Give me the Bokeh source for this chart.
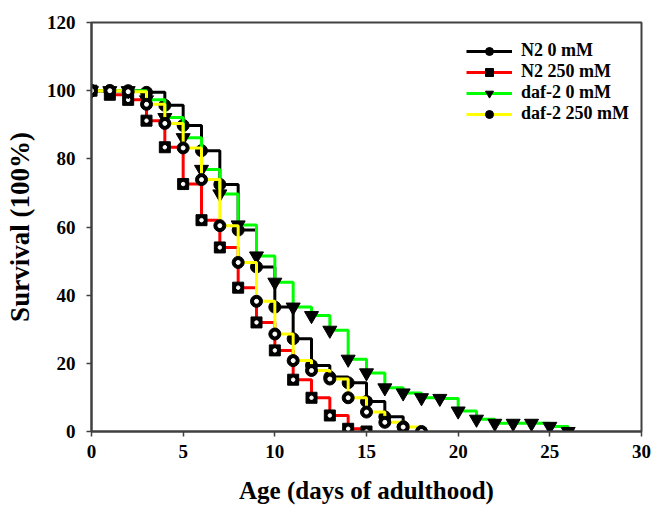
from bokeh.plotting import figure
from bokeh.models import Range1d, FixedTicker, Legend, LegendItem
from bokeh.embed import file_html
from bokeh.resources import INLINE

# ---- data ----
days_n2_0 = list(range(0, 18))
surv_n2_0 = [100, 100, 100, 99.5, 95.7, 89.8, 82.4, 72.5, 59.1, 48.3, 36.5,
             27.2, 19.4, 16.0, 14.3, 8.8, 4.3, 1.4]
days_n2_250 = list(range(0, 16))
surv_n2_250 = [100, 98.8, 97.3, 91.2, 83.4, 72.6, 62.0, 54.0, 42.2, 32.0, 23.8,
               15.2, 9.9, 4.7, 0.8, 0]
days_daf2_0 = list(range(0, 27))
surv_daf2_0 = [100, 100, 100, 97.3, 92.1, 86.2, 76.9, 69.7, 60.6, 51.5, 43.8,
               36.5, 34.0, 29.7, 21.2, 17.2, 12.8, 11.3, 9.9, 9.7, 6.0, 3.6,
               2.4, 2.4, 2.4, 1.5, 0]
days_daf2_250 = list(range(0, 19))
surv_daf2_250 = [100, 100, 99.7, 96.0, 90.4, 83.2, 73.9, 60.4, 49.6, 38.2, 28.6,
                 20.8, 17.9, 15.4, 9.9, 5.7, 2.7, 1.3, 0]

labels = ["N2 0 mM", "N2 250 mM", "daf-2 0 mM", "daf-2 250 mM"]
x_ticks = [0, 5, 10, 15, 20, 25, 30]
y_ticks = [0, 20, 40, 60, 80, 100, 120]

FONT = "Liberation Serif"
AX = "#404040"

p = figure(width=651, height=510, x_range=Range1d(0, 30), y_range=Range1d(0, 120),
           output_backend="svg", toolbar_location=None,
           min_border_left=91, min_border_right=10, min_border_top=22,
           min_border_bottom=79)

p.xgrid.visible = False
p.ygrid.visible = False
p.outline_line_color = AX
p.outline_line_width = 2
p.background_fill_color = "white"
p.border_fill_color = "white"

for ax, ticks in ((p.xaxis[0], x_ticks), (p.yaxis[0], y_ticks)):
    ax.ticker = FixedTicker(ticks=ticks)
    ax.minor_tick_line_color = None
    ax.axis_line_color = AX
    ax.axis_line_width = 2
    ax.major_tick_line_color = AX
    ax.major_tick_line_width = 1.5
    ax.major_tick_out = 5
    ax.major_tick_in = 0
    ax.major_label_text_font = FONT
    ax.major_label_text_font_style = "bold"
    ax.major_label_text_font_size = "19px"
    ax.major_label_text_color = "black"
    ax.axis_label_text_font = FONT
    ax.axis_label_text_font_style = "bold"
    ax.axis_label_text_color = "black"

p.xaxis.major_label_standoff = 8
p.yaxis.major_label_standoff = 11
p.xaxis.axis_label = "Age (days of adulthood)"
p.xaxis.axis_label_text_font_size = "25px"
p.xaxis.axis_label_standoff = 16
p.yaxis.axis_label = "Survival (100%)"
p.yaxis.axis_label_text_font_size = "27px"
p.yaxis.axis_label_standoff = 9

LW = 3
items = []

# N2 0 mM
l1 = p.step(days_n2_0, surv_n2_0, mode="after", line_color="black", line_width=LW)
m1 = p.scatter(days_n2_0, surv_n2_0, marker="circle", size=12, color="black")
items.append(LegendItem(label=labels[0], renderers=[l1, m1]))

# N2 250 mM
l2 = p.step(days_n2_250, surv_n2_250, mode="after", line_color="#ff0000", line_width=LW)
m2 = p.scatter(days_n2_250, surv_n2_250, marker="square", size=11, color="black")
p.scatter(days_n2_250, surv_n2_250, marker="circle", size=3.5, color="white")
items.append(LegendItem(label=labels[1], renderers=[l2, m2]))

# daf-2 0 mM
l3 = p.step(days_daf2_0, surv_daf2_0, mode="after", line_color="#00ff00", line_width=LW)
m3 = p.scatter(days_daf2_0, surv_daf2_0, marker="inverted_triangle", size=14, color="black")
items.append(LegendItem(label=labels[2], renderers=[l3, m3]))

# daf-2 250 mM
l4 = p.step(days_daf2_250, surv_daf2_250, mode="after", line_color="#ffff00", line_width=LW)
m4 = p.scatter(days_daf2_250, surv_daf2_250, marker="circle", size=12, color="black")
p.scatter(days_daf2_250, surv_daf2_250, marker="circle", size=4, color="white")
items.append(LegendItem(label=labels[3], renderers=[l4, m4]))

legend = Legend(items=items, location=(375, 307))
legend.glyph_width = 46
legend.glyph_height = 20
legend.label_height = 20
legend.label_standoff = 9
legend.spacing = 0
legend.padding = 0
legend.margin = 0
legend.border_line_alpha = 0
legend.background_fill_alpha = 0
legend.label_text_font = FONT
legend.label_text_font_style = "bold"
legend.label_text_font_size = "18px"
legend.label_text_color = "black"
p.add_layout(legend)

open("out.html", "w").write(file_html(p, INLINE))
